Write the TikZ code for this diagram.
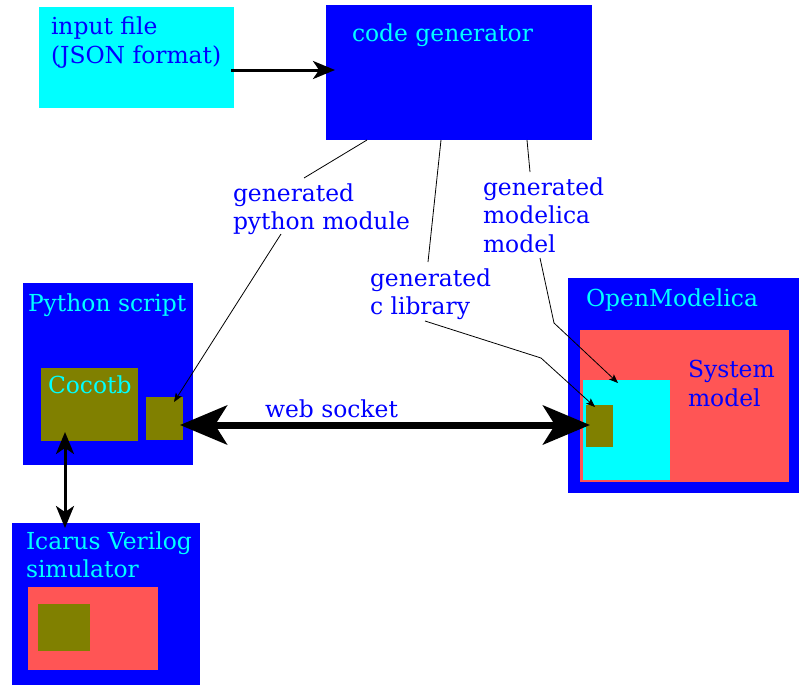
\documentclass[tikz,border=0pt]{standalone}
\usepackage{fontspec}
\setmainfont{DejaVu Serif}
\usetikzlibrary{arrows.meta}
\definecolor{cgblue}{RGB}{0,0,255}
\definecolor{cgcyan}{RGB}{0,255,255}
\definecolor{cgolive}{RGB}{128,128,0}
\definecolor{cgred}{RGB}{255,85,85}
\begin{document}
\begin{tikzpicture}[x=1pt,y=-1pt,
  blk/.style={inner sep=0pt, outer sep=0pt, anchor=north west, draw=none},
  txt/.style={inner sep=0pt, outer sep=0pt, anchor=north west, align=left, font=\fontsize{23.4pt}{28.7pt}\selectfont},
  lbl/.style={txt, text=cgblue},
  ttl/.style={txt, text=cgcyan},
  conn/.style={draw=black, line width=0.8pt},
  connarrow/.style={conn, -{Stealth[length=9pt,width=7pt,inset=2pt]}},
  thickarrow/.style={draw=black, line width=3pt, -{Stealth[length=22pt,width=18pt,inset=6pt]}},
  dblarrow/.style={draw=black, line width=3pt, {Stealth[length=22pt,width=18pt,inset=6pt]}-{Stealth[length=22pt,width=18pt,inset=6pt]}},
  wsarrow/.style={draw=black, line width=7pt, {Stealth[length=47pt,width=39pt,inset=12pt]}-{Stealth[length=47pt,width=39pt,inset=12pt]}}
]
\useasboundingbox (0,0) rectangle (799,685);
\fill[white] (0,0) rectangle (799,685);

% boxes
\node[blk, fill=cgcyan, minimum width=195pt, minimum height=101pt] (inp) at (39,7) {};
\node[blk, fill=cgblue, minimum width=266pt, minimum height=135pt] (cg) at (326,5) {};

\node[blk, fill=cgblue, minimum width=170pt, minimum height=182pt] (py) at (23,283) {};
\node[blk, fill=cgolive, minimum width=97pt, minimum height=73pt] (cocotb) at (41,368) {};
\node[blk, fill=cgolive, minimum width=37pt, minimum height=43pt] (pysmall) at (146,397) {};

\node[blk, fill=cgblue, minimum width=188pt, minimum height=162pt] (icarus) at (12,523) {};
\node[blk, fill=cgred, minimum width=130pt, minimum height=83pt] (icred) at (28,587) {};
\node[blk, fill=cgolive, minimum width=52pt, minimum height=47pt] (icolive) at (38,604) {};

\node[blk, fill=cgblue, minimum width=231pt, minimum height=215pt] (om) at (568,278) {};
\node[blk, fill=cgred, minimum width=209pt, minimum height=152pt] (omred) at (580,330) {};
\node[blk, fill=cgcyan, minimum width=87pt, minimum height=100pt] (omcyan) at (583,380) {};
\node[blk, fill=cgolive, minimum width=27pt, minimum height=42pt] (omolive) at (586,405) {};

% texts
\node[lbl] (tinp) at (51,16.7) {input file\\(JSON format)};
\node[ttl] (tcg) at (352,23.5) {code generator};
\node[ttl] (tpy) at (28,293.5) {Python script};
\node[ttl] (tcoco) at (48,375.5) {Cocotb};
\node[ttl] (tic) at (26,531.5) {Icarus Verilog\\simulator};
\node[ttl] (tom) at (586,288.5) {OpenModelica};
\node[lbl] (tsys) at (688,360) {System\\model};
\node[lbl] (tws) at (265,399.5) {web socket};
\node[lbl] (lpy) at (233,183.5) {generated\\python module};
\node[lbl] (lcl) at (370,268.5) {generated\\c library};
\node[lbl] (lmd) at (483,177.5) {generated\\modelica\\model};

% helper coordinates
\coordinate (pyA) at (304,178);
\coordinate (pyB) at (281,234);
\coordinate (clA) at (428,262);
\coordinate (clB) at (425,321);
\coordinate (clC) at (541,358);
\coordinate (mdA) at (530,172);
\coordinate (mdB) at (540,258);
\coordinate (mdC) at (554,323);

% connectors
\draw[thickarrow] ([xshift=-3pt,yshift=-12.5pt]inp.east) -- ([xshift=9pt,yshift=2.5pt]cg.west);
\draw[conn] ([xshift=41pt]cg.south west) -- (pyA);
\draw[connarrow] (pyB) -- ([xshift=28pt,yshift=-5pt]pysmall.north west);
\draw[conn] ([xshift=115pt]cg.south west) -- (clA);
\draw[connarrow] (clB) -- (clC) -- ([xshift=9pt,yshift=-2pt]omolive.north west);
\draw[conn] ([xshift=201pt]cg.south west) -- (mdA);
\draw[connarrow] (mdB) -- (mdC) -- ([xshift=35pt,yshift=-3pt]omcyan.north west);
\draw[wsarrow] ([xshift=-3pt,yshift=-6.5pt]pysmall.east) -- ([xshift=4pt,yshift=1pt]omolive.west);
\draw[dblarrow] ([xshift=-24.5pt,yshift=9pt]cocotb.south) -- ([xshift=-41pt,yshift=-5pt]icarus.north);
\end{tikzpicture}
\end{document}
